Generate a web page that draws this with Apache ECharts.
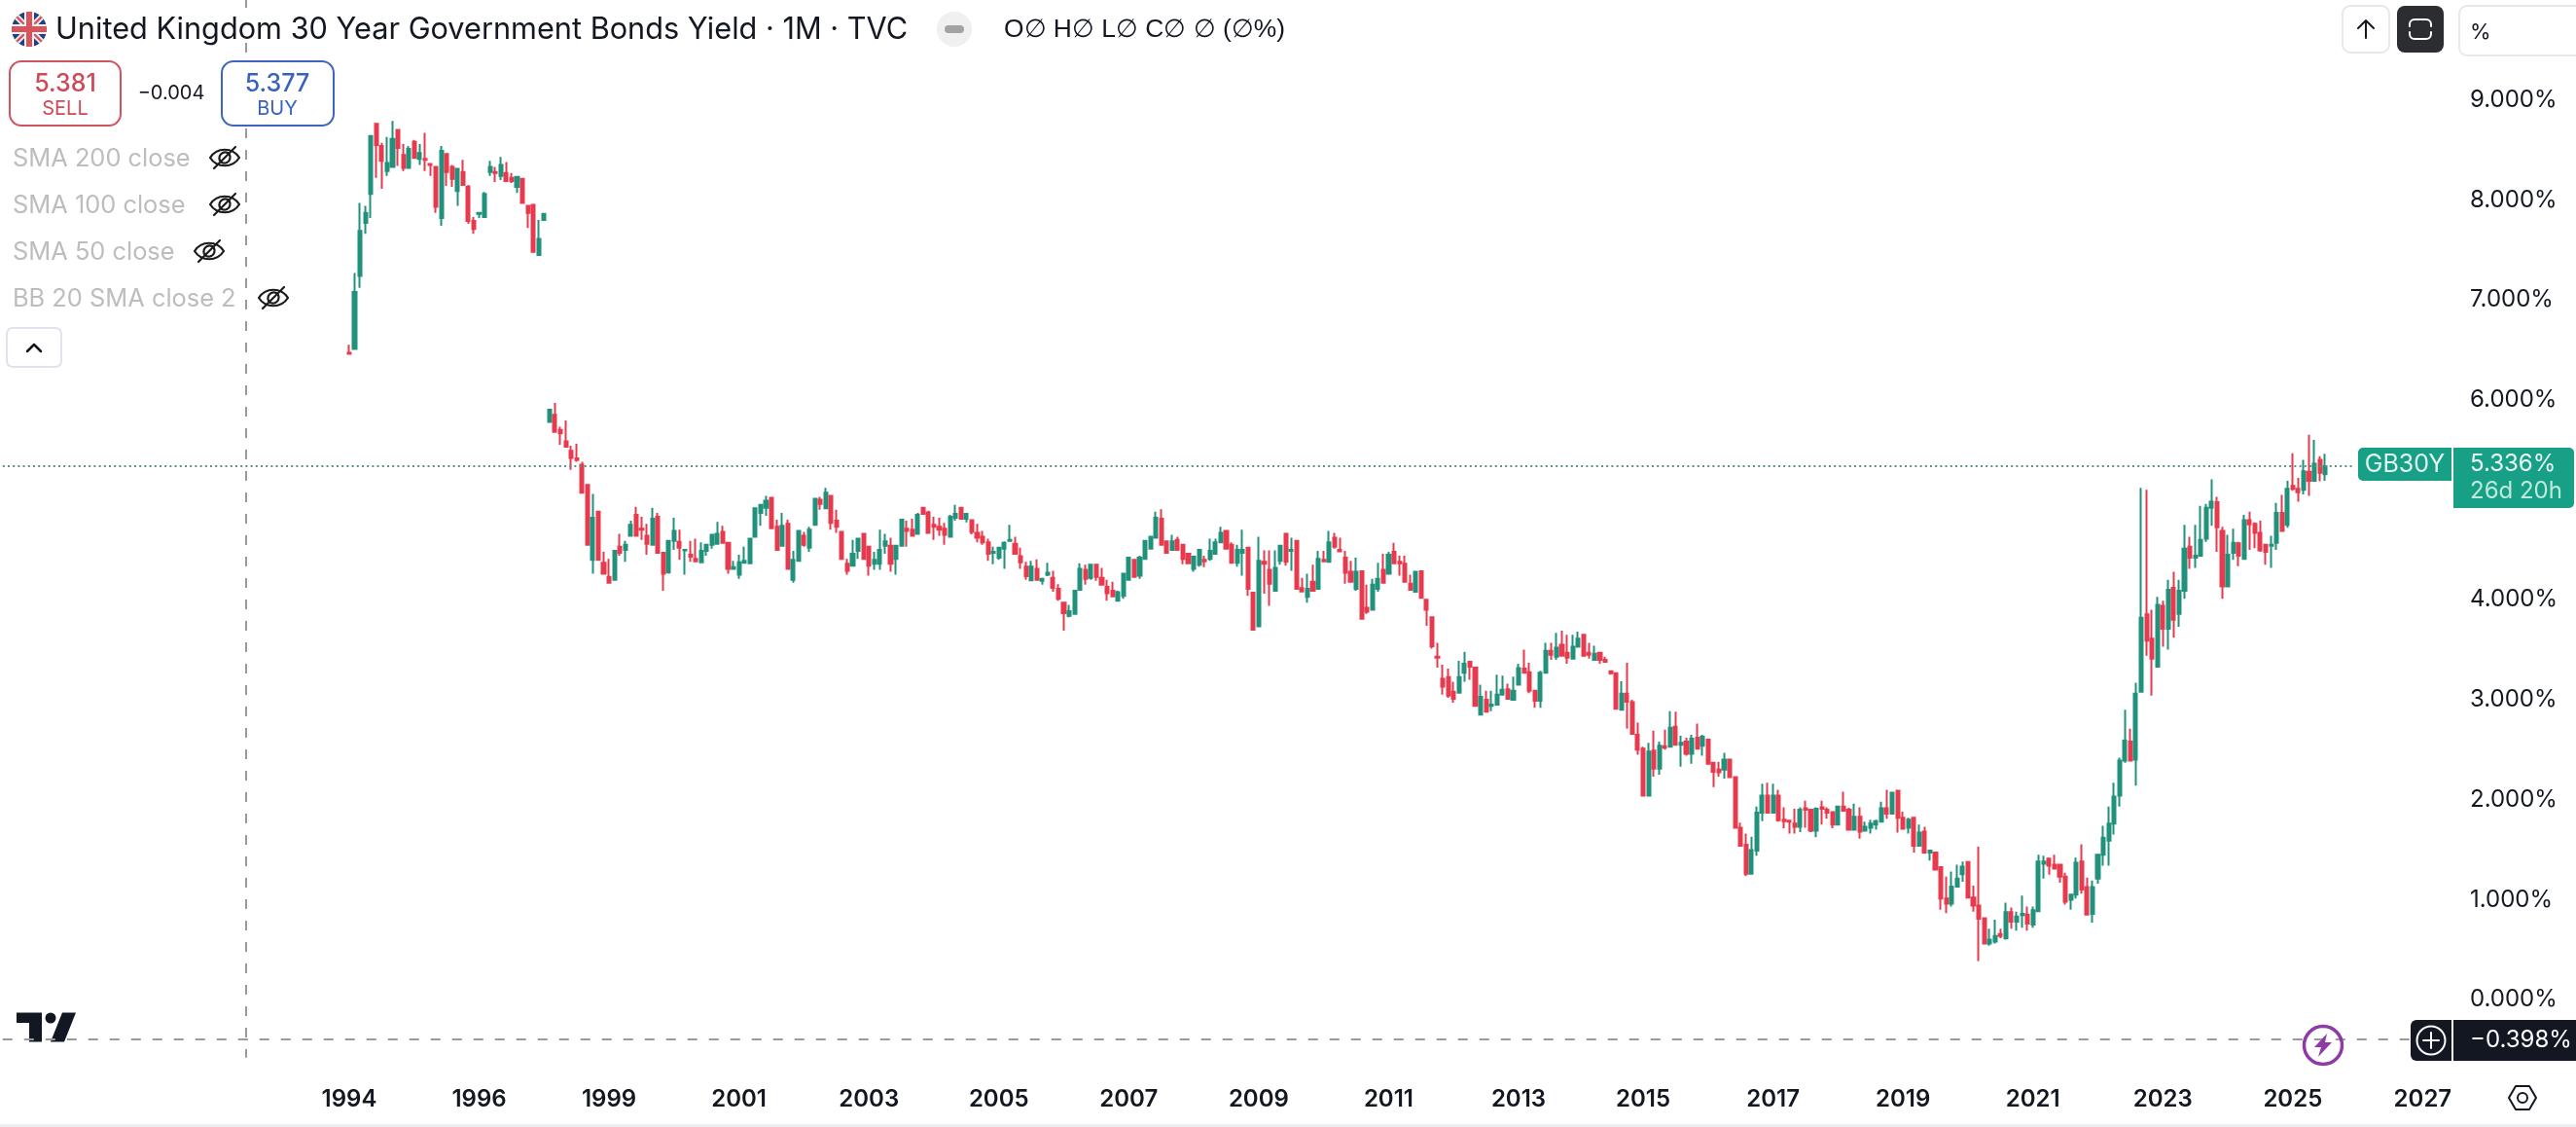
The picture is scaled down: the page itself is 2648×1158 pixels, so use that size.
<!DOCTYPE html>
<html lang="en">
<head>
<meta charset="utf-8">
<title>United Kingdom 30 Year Government Bonds Yield</title>
<script src="https://cdn.jsdelivr.net/npm/echarts@6/dist/echarts.min.js"></script>
<style>
  html, body { margin: 0; padding: 0; background: #fff; }
  #chart { width: 2648px; height: 1158px; }
</style>
</head>
<body>
<div id="chart"></div>
<script>
// monthly candles, Jan 1994 to Jul 2025
const opens = [
  6.47,6.51,7.24,7.77,8.06,8.76,8.54,8.29,8.33,8.70,
  8.45,8.32,8.58,8.41,8.41,8.36,8.33,7.82,8.46,8.33,
  8.09,8.28,8.13,7.79,7.86,7.83,8.28,8.28,8.24,8.27,
  8.22,8.13,8.21,7.94,7.95,7.45,7.80,
  5.78,5.85,5.70,5.585,5.49,5.415,5.35,5.15,4.40,4.88,
  4.37,4.23,4.20,4.53,4.50,4.64,4.85,4.71,4.64,4.55,
  4.83,4.47,4.275,4.59,4.58,4.495,4.45,4.41,4.375,4.49,
  4.55,4.56,4.68,4.57,4.31,4.25,4.37,4.365,4.63,4.87,
  4.92,5.02,4.73,4.54,4.76,4.20,4.39,4.64,4.52,4.75,
  5.00,4.915,5.04,4.79,4.68,4.36,4.34,4.49,4.66,4.53,
  4.36,4.36,4.54,4.54,4.41,4.54,4.71,4.70,4.66,4.92,
  4.875,4.75,4.73,4.71,4.63,4.82,4.92,4.81,4.795,4.67,
  4.63,4.575,4.47,4.42,4.51,4.59,4.56,4.435,4.33,4.195,
  4.31,4.19,4.25,4.22,4.11,3.97,3.84,3.86,4.10,4.30,
  4.22,4.35,4.22,4.13,4.09,3.99,4.04,4.20,4.40,4.24,
  4.41,4.51,4.62,4.81,4.585,4.50,4.60,4.55,4.46,4.31,
  4.35,4.40,4.41,4.46,4.575,4.69,4.55,4.37,4.47,4.52,
  4.07,3.735,4.38,4.30,4.09,4.39,4.66,4.49,4.59,4.116,
  4.03,4.18,4.11,4.40,4.38,4.62,4.50,4.42,4.28,4.11,
  4.285,3.92,3.90,4.11,4.30,4.26,4.48,4.38,4.36,4.16,
  4.08,4.285,4.00,3.825,3.43,3.21,3.225,3.08,3.07,3.27,
  3.38,3.32,2.85,3.00,2.94,2.95,3.05,3.105,3.00,3.15,
  3.31,3.275,3.09,2.99,3.27,3.49,3.43,3.55,3.47,3.41,
  3.53,3.65,3.47,3.40,3.47,3.40,3.285,3.265,2.90,3.06,
  2.975,2.65,2.51,2.04,2.49,2.31,2.535,2.53,2.73,2.55,
  2.58,2.46,2.62,2.54,2.60,2.37,2.30,2.30,2.40,2.225,
  1.72,1.55,1.26,1.49,1.87,2.04,1.87,2.04,1.80,1.79,
  1.76,1.73,1.915,1.90,1.69,1.925,1.90,1.875,1.75,1.93,
  1.90,1.70,1.83,1.69,1.72,1.75,1.78,1.915,1.86,2.09,
  1.82,1.72,1.82,1.54,1.68,1.47,1.47,1.325,1.01,0.96,
  1.13,1.255,1.375,1.02,0.94,0.815,0.56,0.58,0.655,0.615,
  0.875,0.78,0.845,0.85,0.75,0.885,1.36,1.41,1.35,1.35,
  1.23,1.00,1.05,1.38,1.125,0.857,1.21,1.45,1.59,1.76,
  2.04,2.39,2.58,2.40,3.08,3.855,3.61,3.33,3.94,3.71,
  4.12,3.86,4.09,4.53,4.42,4.44,4.61,4.92,4.975,4.69,
  4.135,4.47,4.565,4.41,4.795,4.76,4.67,4.55,4.54,4.57,
  4.87,4.75,5.14,5.11,5.10,5.28,5.19,5.40,5.255
];
const closes = [
  6.46,7.08,7.69,7.87,8.64,8.55,8.39,8.37,8.61,8.52,
  8.32,8.51,8.42,8.47,8.40,8.35,7.93,8.49,8.28,8.21,
  8.31,8.15,7.79,7.71,7.87,8.06,8.33,8.27,8.35,8.19,
  8.19,8.23,7.97,7.87,7.48,7.61,7.86,
  5.90,5.68,5.665,5.53,5.42,5.40,5.07,4.55,4.82,4.40,
  4.26,4.17,4.49,4.47,4.55,4.75,4.64,4.70,4.56,4.81,
  4.47,4.26,4.59,4.69,4.52,4.50,4.43,4.385,4.49,4.55,
  4.65,4.66,4.57,4.31,4.325,4.375,4.39,4.61,4.915,4.95,
  4.99,4.715,4.50,4.74,4.31,4.40,4.69,4.55,4.70,5.01,
  4.96,5.07,4.77,4.73,4.41,4.29,4.46,4.61,4.41,4.34,
  4.40,4.50,4.585,4.36,4.54,4.80,4.69,4.64,4.85,4.86,
  4.67,4.73,4.70,4.65,4.83,4.86,4.81,4.86,4.68,4.62,
  4.575,4.46,4.48,4.52,4.57,4.60,4.46,4.375,4.235,4.33,
  4.20,4.21,4.27,4.12,4.01,3.865,3.885,4.09,4.31,4.21,
  4.35,4.23,4.15,4.065,4.035,4.075,4.26,4.42,4.23,4.42,
  4.59,4.63,4.82,4.55,4.47,4.585,4.50,4.41,4.365,4.43,
  4.50,4.385,4.49,4.575,4.67,4.51,4.37,4.50,4.50,4.11,
  3.70,4.39,4.36,4.16,4.32,4.54,4.38,4.50,4.11,4.084,
  4.11,4.09,4.41,4.385,4.575,4.53,4.485,4.27,4.18,4.28,
  3.81,3.88,4.15,4.21,4.17,4.45,4.365,4.365,4.18,4.10,
  4.28,4.02,3.90,3.535,3.42,3.13,3.04,3.01,3.225,3.36,
  3.33,2.94,3.03,2.88,2.95,3.05,3.10,3.01,3.09,3.315,
  3.27,3.09,2.99,3.27,3.49,3.45,3.52,3.44,3.42,3.53,
  3.61,3.44,3.45,3.46,3.40,3.38,3.265,2.91,3.06,2.98,
  2.66,2.50,2.04,2.48,2.31,2.54,2.52,2.72,2.55,2.57,
  2.46,2.61,2.51,2.63,2.36,2.28,2.275,2.40,2.225,1.72,
  1.54,1.26,1.495,1.87,2.04,1.87,2.04,1.795,1.785,1.78,
  1.73,1.90,1.90,1.69,1.91,1.91,1.87,1.75,1.93,1.89,
  1.70,1.83,1.68,1.73,1.76,1.785,1.915,1.86,2.07,1.82,
  1.71,1.80,1.54,1.67,1.47,1.49,1.30,1.01,0.96,1.13,
  1.21,1.33,1.02,0.94,0.81,0.56,0.60,0.635,0.635,0.875,
  0.78,0.83,0.857,0.76,0.895,1.38,1.38,1.34,1.31,1.23,
  0.98,1.05,1.37,1.10,0.85,1.125,1.45,1.62,1.76,2.03,
  2.39,2.59,2.39,3.06,3.82,3.59,3.41,3.95,3.71,4.10,
  3.80,4.09,4.51,4.42,4.44,4.60,4.92,4.98,4.725,4.135,
  4.45,4.57,4.44,4.795,4.755,4.67,4.495,4.48,4.55,4.87,
  4.69,5.11,5.11,5.075,5.285,5.19,5.36,5.27,5.336
];
const lows = [
  6.46,6.51,7.12,7.66,7.82,8.22,8.11,8.24,8.33,8.34,
  8.29,8.31,8.41,8.35,8.29,8.24,7.87,7.74,8.14,8.13,
  7.94,8.15,7.76,7.66,7.82,7.83,8.24,8.18,8.20,8.19,
  8.17,8.07,7.97,7.72,7.48,7.45,7.80,
  5.78,5.675,5.55,5.53,5.30,5.38,5.07,4.55,4.26,4.40,
  4.26,4.17,4.20,4.44,4.38,4.64,4.64,4.60,4.45,4.55,
  4.47,4.09,4.26,4.50,4.40,4.25,4.38,4.385,4.375,4.44,
  4.51,4.56,4.57,4.26,4.31,4.21,4.37,4.365,4.63,4.74,
  4.84,4.715,4.50,4.54,4.31,4.17,4.39,4.53,4.48,4.75,
  4.90,4.915,4.70,4.67,4.40,4.25,4.33,4.41,4.41,4.24,
  4.30,4.30,4.46,4.28,4.25,4.54,4.53,4.64,4.66,4.86,
  4.66,4.60,4.64,4.55,4.62,4.79,4.81,4.775,4.655,4.575,
  4.55,4.39,4.355,4.40,4.31,4.59,4.46,4.31,4.20,4.195,
  4.20,4.15,4.235,4.08,3.99,3.69,3.825,3.86,4.10,4.15,
  4.20,4.19,4.15,3.99,4.035,3.985,4.01,4.20,4.23,4.21,
  4.41,4.51,4.62,4.55,4.46,4.49,4.49,4.355,4.365,4.28,
  4.33,4.325,4.39,4.46,4.575,4.51,4.37,4.33,4.24,4.04,
  3.70,3.735,4.06,3.94,4.09,4.35,4.34,4.29,4.11,4.084,
  3.97,4.09,4.11,4.385,4.38,4.51,4.485,4.16,4.18,4.09,
  3.81,3.86,3.90,4.08,4.17,4.26,4.365,4.24,4.18,4.10,
  4.08,4.02,3.74,3.51,3.32,3.05,3.02,2.97,3.07,3.18,
  3.20,2.94,2.85,2.88,2.885,2.95,3.04,3.00,3.00,3.15,
  3.27,3.065,2.92,2.92,3.27,3.40,3.40,3.44,3.36,3.41,
  3.52,3.44,3.41,3.40,3.36,3.37,3.25,2.91,2.90,2.71,
  2.65,2.45,2.04,2.04,2.23,2.25,2.50,2.53,2.55,2.33,
  2.44,2.36,2.51,2.44,2.36,2.125,2.23,2.21,2.225,1.72,
  1.53,1.235,1.26,1.44,1.785,1.86,1.87,1.78,1.715,1.66,
  1.66,1.675,1.72,1.675,1.625,1.75,1.81,1.715,1.75,1.89,
  1.70,1.70,1.61,1.69,1.66,1.70,1.77,1.81,1.86,1.67,
  1.70,1.66,1.47,1.54,1.46,1.39,1.30,0.90,0.865,0.93,
  1.13,1.18,1.02,0.88,0.385,0.56,0.54,0.56,0.615,0.60,
  0.71,0.69,0.72,0.69,0.72,0.885,1.21,1.25,1.31,1.17,
  0.95,0.90,1.01,1.06,0.85,0.77,1.16,1.34,1.34,1.65,
  1.93,2.37,2.39,2.14,3.08,3.44,3.04,3.33,3.53,3.50,
  3.62,3.73,4.01,4.31,4.32,4.44,4.58,4.74,4.48,4.01,
  4.135,4.40,4.335,4.41,4.50,4.515,4.48,4.35,4.32,4.50,
  4.69,4.72,5.09,4.98,5.055,5.04,5.19,5.185,5.19
];
const highs = [
  6.55,7.27,7.97,7.94,8.64,8.76,8.57,8.63,8.79,8.70,
  8.56,8.54,8.60,8.56,8.67,8.36,8.33,8.54,8.46,8.35,
  8.31,8.40,8.15,7.83,7.87,8.08,8.39,8.33,8.43,8.38,
  8.27,8.23,8.22,7.94,7.96,7.80,7.86,
  5.90,5.97,5.73,5.795,5.54,5.56,5.38,5.15,5.06,4.88,
  4.48,4.41,4.49,4.66,4.59,4.79,4.93,4.83,4.76,4.92,
  4.87,4.47,4.59,4.82,4.70,4.50,4.59,4.61,4.575,4.56,
  4.65,4.78,4.74,4.58,4.39,4.45,4.53,4.61,4.915,4.95,
  5.04,5.02,4.80,4.87,4.80,4.49,4.69,4.68,4.73,5.01,
  5.03,5.12,5.05,4.90,4.68,4.41,4.60,4.61,4.66,4.54,
  4.48,4.70,4.66,4.62,4.54,4.80,4.79,4.81,4.87,4.92,
  4.89,4.83,4.82,4.77,4.85,4.95,4.93,4.86,4.795,4.76,
  4.69,4.61,4.53,4.53,4.585,4.75,4.63,4.52,4.38,4.39,
  4.405,4.22,4.37,4.29,4.155,3.97,3.95,4.09,4.365,4.35,
  4.36,4.36,4.32,4.20,4.18,4.09,4.26,4.43,4.40,4.44,
  4.59,4.63,4.88,4.905,4.585,4.65,4.63,4.56,4.47,4.44,
  4.50,4.44,4.61,4.61,4.73,4.69,4.575,4.55,4.70,4.53,
  4.08,4.63,4.495,4.495,4.495,4.54,4.66,4.62,4.59,4.22,
  4.26,4.35,4.49,4.49,4.69,4.67,4.62,4.49,4.39,4.42,
  4.285,4.15,4.21,4.37,4.46,4.48,4.57,4.44,4.44,4.25,
  4.28,4.285,4.00,3.825,3.57,3.35,3.31,3.18,3.39,3.48,
  3.38,3.32,3.15,3.09,3.09,3.25,3.24,3.16,3.23,3.36,
  3.50,3.37,3.09,3.29,3.57,3.57,3.67,3.69,3.65,3.65,
  3.68,3.66,3.57,3.54,3.48,3.43,3.285,3.265,3.185,3.37,
  3.00,2.77,2.53,2.57,2.69,2.58,2.70,2.885,2.88,2.64,
  2.62,2.65,2.76,2.65,2.60,2.37,2.38,2.47,2.40,2.225,
  1.77,1.66,1.63,1.93,2.16,2.17,2.16,2.10,1.925,1.79,
  1.91,1.925,1.99,1.91,1.925,1.99,1.925,1.875,1.93,2.08,
  1.92,1.96,1.925,1.78,1.80,1.80,1.98,2.10,2.07,2.10,
  1.88,1.82,1.83,1.75,1.73,1.49,1.48,1.325,1.23,1.28,
  1.35,1.38,1.375,1.14,1.53,0.815,0.71,0.80,0.71,0.97,
  0.92,0.88,1.04,0.93,0.93,1.45,1.44,1.41,1.45,1.35,
  1.27,1.06,1.42,1.555,1.22,1.19,1.46,1.74,1.93,2.17,
  2.42,2.90,2.71,3.17,5.12,5.10,3.90,4.03,3.99,4.20,
  4.28,4.20,4.75,4.63,4.75,4.94,4.96,5.205,5.03,4.73,
  4.65,4.71,4.58,4.85,4.88,4.775,4.79,4.55,4.64,4.97,
  5.05,5.19,5.465,5.22,5.40,5.65,5.60,5.435,5.46
];

const yearLabels = ['1994','1996','1999','2001','2003','2005','2007','2009','2011','2013','2015','2017','2019','2021','2023','2025','2027'];
const hiddenYTicks = [-1, 5, 10];   // 5% sits under the price tag
const skippedMonths = ['1997-02','1997-03','1997-04','1997-05','1997-06','1997-07','1997-08','1997-09','1997-10','1997-11','1997-12','1998-01','2014-06'];
const lastClose = 5.336;
const crossValue = -0.398;
const crossMonth = '1992-06';

// bars are equally spaced and the feed has holes, so the axis skips those months
const months = [];
for (let y = 1988; y <= 2027; y++) {
  for (let m = 1; m <= 12; m++) {
    const name = y + '-' + String(m).padStart(2, '0');
    if (name < '1988-09' || name > '2027-06' || skippedMonths.includes(name)) continue;
    months.push(name);
  }
}
const firstBar = months.indexOf('1994-01');
const candleData = months.map((name, k) => {
  const i = k - firstBar;
  if (i < 0 || i >= opens.length) return ['-', '-', '-', '-'];
  return [opens[i], closes[i], lows[i], highs[i]];
});

// chrome around the chart
const ink = '#131722';
const ui = [];
let shapeCount = 0;
function txt(x, y, text, font, fill, align, z) {
  ui.push({ type: 'text', z: z || 5, silent: true, style: { x, y, text, font, fill, textAlign: align || 'left', textVerticalAlign: 'middle' } });
}
function box(x, y, width, height, r, fill, stroke, lineWidth, z) {
  ui.push({ type: 'rect', z: z || 4, silent: true, shape: { x, y, width, height, r }, style: { fill: fill || 'none', stroke: stroke || 'none', lineWidth: lineWidth || 0 } });
}
// graphic has no plain path type, each icon is registered as its own shape
function path(x, y, d, fill, stroke, lineWidth, z) {
  const name = 'uiPath' + (shapeCount++);
  echarts.graphic.registerShape(name, echarts.graphic.extendPath(d));
  ui.push({ type: name, z: z || 5, silent: true, x, y, style: { fill: fill || 'none', stroke: stroke || 'none', lineWidth: lineWidth || 0, lineCap: 'round', lineJoin: 'round' } });
}
function seg(x1, y1, x2, y2, stroke, lineWidth) {
  ui.push({ type: 'line', z: 5, silent: true, shape: { x1, y1, x2, y2 }, style: { stroke, lineWidth } });
}
function eye(cx, cy) {
  path(cx, cy, 'M-15,0 C-8,-11 8,-11 15,0 C8,11 -8,11 -15,0 Z', null, '#1a1a1a', 2.2);
  path(cx, cy, 'M-5,3 A6,6 0 0 1 3,-5 M5,-3 A6,6 0 0 1 -3,5', null, '#1a1a1a', 2.2);
  path(cx, cy, 'M-11,11 L11,-11', null, '#1a1a1a', 2.2);
}

// title row
box(0, 8, 945, 32, 0, '#fff', null, 0, 4);
ui.push({ type: 'circle', z: 5, silent: true, shape: { cx: 30, cy: 30, r: 18 }, style: { fill: '#23407f' } });
seg(17.3, 17.3, 42.7, 42.7, '#f4f4f4', 6);
seg(17.3, 42.7, 42.7, 17.3, '#f4f4f4', 6);
seg(17.3, 17.3, 42.7, 42.7, '#d9535c', 2.4);
seg(17.3, 42.7, 42.7, 17.3, '#d9535c', 2.4);
seg(12, 30, 48, 30, '#f4f4f4', 10);
seg(30, 12, 30, 48, '#f4f4f4', 10);
seg(12, 30, 48, 30, '#d9535c', 6);
seg(30, 12, 30, 48, '#d9535c', 6);
txt(57, 31, 'United Kingdom 30 Year Government Bonds Yield · 1M · TVC', '400 30.7px Inter', ink);
ui.push({ type: 'circle', z: 5, silent: true, shape: { cx: 981, cy: 30, r: 18 }, style: { fill: '#f0f0f1' } });
box(971, 26, 20, 8, 4, '#a3a3a6', null, 0, 6);
txt(1032, 31, 'O∅ H∅ L∅ C∅ ∅ (∅%)', '400 26.4px "Liberation Sans"', ink);

// sell / buy
box(10, 63, 114, 66, 12, '#fff', '#cc5560', 2);
txt(67, 86, '5.381', '500 25px Inter', '#cf4a57', 'center');
txt(67, 112, 'SELL', '400 20px Inter', '#cf4a57', 'center');
txt(176, 96, '−0.004', '400 20px Inter', ink, 'center');
box(228, 63, 115, 66, 12, '#fff', '#3f66bd', 2);
txt(285, 86, '5.377', '500 25px Inter', '#3a62bd', 'center');
txt(285, 112, 'BUY', '400 20px Inter', '#3a62bd', 'center');

// collapsed indicators
txt(13, 163, 'SMA 200 close', '400 25.4px Inter', '#bdbdbd');
txt(13, 211, 'SMA 100 close', '400 25.4px Inter', '#bdbdbd');
txt(13, 259, 'SMA 50 close', '400 25.4px Inter', '#bdbdbd');
txt(13, 307, 'BB 20 SMA close 2', '400 25.4px Inter', '#bdbdbd');
eye(231, 162);
eye(231, 210);
eye(215, 258);
eye(281, 306);
box(7, 337, 56, 40, 6, '#fff', '#e0e3eb', 2);
path(35, 357, 'M-7,4 L0,-3 L7,4', null, '#131722', 2.5);

// top right buttons
box(2408, 6, 48, 48, 8, '#fff', '#e6e8ee', 2);
path(2432, 30, 'M0,9 L0,-9 M-8,-1 L0,-9 L8,-1', null, ink, 2);
box(2464, 6, 48, 48, 8, '#2c2d30');
path(2488, 30, 'M-11,-3 V-5 A5,5 0 0 1 -6,-10 H6 A5,5 0 0 1 11,-5 V-3 M-11,3 V5 A5,5 0 0 0 -6,10 H6 A5,5 0 0 0 11,5 V3', null, '#fff', 2);
box(2528, 6, 130, 51, 8, '#fff', '#e6e8ee', 2);
txt(2539, 33, '%', '400 22px Inter', ink);

// last price tag
box(2424, 460, 96, 34, [5, 0, 0, 5], '#17a085');
txt(2472, 477, 'GB30Y', '400 25px Inter', '#e3f5f1', 'center');
box(2522, 460, 124, 62, [0, 5, 5, 0], '#17a085');
txt(2539, 477, '5.336%', '400 24px Inter', '#ecf8f5');
txt(2539, 505, '26d 20h', '400 24px Inter', '#bfe8de');

// crosshair tags
box(2478, 1048, 42, 42, [6, 0, 0, 6], ink);
ui.push({ type: 'circle', z: 5, silent: true, shape: { cx: 2499, cy: 1069, r: 14.5 }, style: { fill: 'none', stroke: '#fff', lineWidth: 2 } });
path(2499, 1069, 'M-8,0 H8 M0,-8 V8', null, '#fff', 2);
box(2522, 1048, 126, 42, 0, ink);
txt(2539, 1069, '−0.398%', '400 24px Inter', '#fff');

// bottom bits
ui.push({ type: 'circle', z: 5, silent: true, shape: { cx: 2388, cy: 1074, r: 19.5 }, style: { fill: 'none', stroke: '#8e3aa8', lineWidth: 3.5 } });
path(2388, 1074, 'M4,-12 L-9,2 L-2,2 L-5,12 L9,-3 L2,-3 Z', '#8e3aa8');
path(2593, 1128, 'M-14,0 L-7,-12 L7,-12 L14,0 L7,12 L-7,12 Z', null, ink, 2);
ui.push({ type: 'circle', z: 5, silent: true, shape: { cx: 2593, cy: 1128, r: 5 }, style: { fill: 'none', stroke: ink, lineWidth: 2 } });
box(0, 1155, 2648, 3, 0, '#eceef1');

// tradingview logo sits under the dashed line
path(0, 0, 'M17,1040.5 H43 V1070.5 H30 V1051 H17 Z', ink, null, 0, 1);
ui.push({ type: 'circle', z: 1, silent: true, shape: { cx: 52, cy: 1046, r: 5.5 }, style: { fill: ink } });
path(0, 0, 'M64,1040.5 H78 L66,1070.5 H52 Z', ink, null, 0, 1);

const myChart = echarts.init(document.getElementById('chart'));

const option = {
  backgroundColor: '#ffffff',
  animation: false,
  textStyle: { fontFamily: 'Inter' },
  graphic: { elements: ui },
  grid: { left: -1, top: -4.3, width: 2522, height: 1134.1, containLabel: false },
  xAxis: {
    type: 'category',
    data: months,
    boundaryGap: true,
    axisLine: { show: false },
    axisTick: { show: false },
    splitLine: { show: false },
    axisLabel: {
      margin: 0,
      verticalAlign: 'middle',
      fontFamily: 'Inter',
      fontSize: 24,
      fontWeight: 600,
      color: ink,
      hideOverlap: false,
      interval: (k, name) => name.endsWith('-01') && yearLabels.includes(name.slice(0, 4)),
      formatter: name => name.slice(0, 4)
    }
  },
  yAxis: {
    type: 'value',
    position: 'right',
    min: -1,
    max: 10,
    interval: 1,
    scale: true,
    axisLine: { show: false },
    axisTick: { show: false },
    splitLine: { show: false },
    axisLabel: {
      margin: 18,
      align: 'left',
      fontFamily: 'Inter',
      fontSize: 24,
      color: ink,
      formatter: v => hiddenYTicks.includes(v) ? '' : v.toFixed(3) + '%'
    }
  },
  series: [{
    type: 'candlestick',
    name: 'GB30Y',
    data: candleData,
    barWidth: 3.6,
    itemStyle: {
      color: '#21917b',
      color0: '#e83a4e',
      borderColor: '#21917b',
      borderColor0: '#e83a4e',
      borderWidth: 2
    },
    markLine: {
      z: 3,   // stays under the sell/buy boxes, over the logo
      silent: true,
      symbol: 'none',
      animation: false,
      label: { show: false },
      data: [
        [{ xAxis: months[0], yAxis: lastClose, lineStyle: { color: '#5d9187', width: 2, type: [2, 3.2] } },
         { xAxis: months[434], yAxis: lastClose }],
        [{ xAxis: months[0], yAxis: crossValue, lineStyle: { color: '#9a9a9e', width: 2, type: [10, 12] } },
         { xAxis: months[445], yAxis: crossValue }],
        [{ xAxis: crossMonth, yAxis: 10, lineStyle: { color: '#9a9a9e', width: 2, type: [10, 12] } },
         { xAxis: crossMonth, yAxis: -0.58 }]
      ]
    }
  }]
};

myChart.setOption(option);
</script>
</body>
</html>
